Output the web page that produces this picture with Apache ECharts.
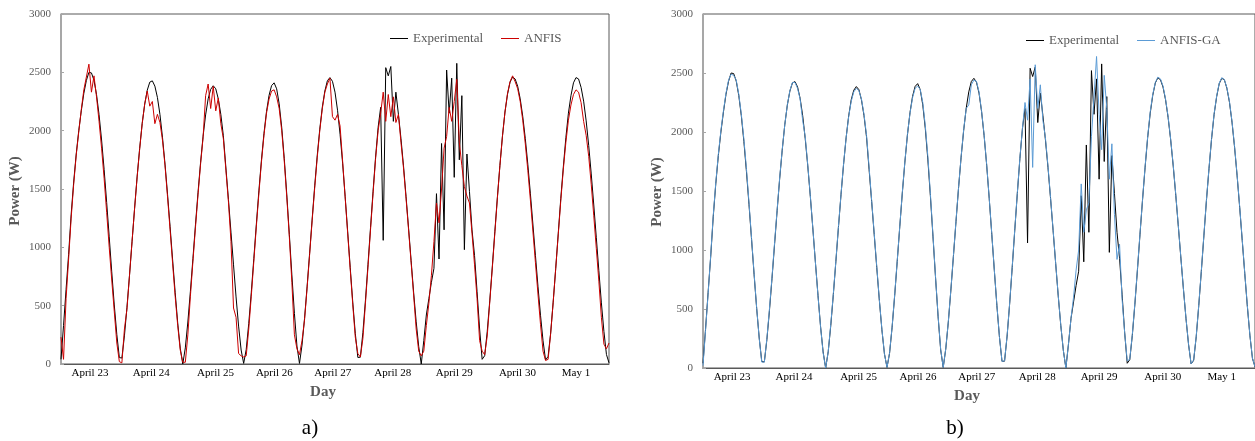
<!DOCTYPE html>
<html>
<head>
<meta charset="utf-8">
<script src="https://cdn.jsdelivr.net/npm/echarts@6/dist/echarts.min.js"></script>
<style>
  html, body { margin: 0; padding: 0; background: #fff; }
  #chart { width: 1255px; height: 441px; }
</style>
</head>
<body>
<div id="chart"></div>
<script>
// samples are hourly (24 per day), one row per day cycle
const dayLabels = ['April 23', 'April 24', 'April 25', 'April 26', 'April 27', 'April 28', 'April 29', 'April 30', 'May 1'];
const dayTicks = [11.4, 35.6, 60.9, 84.1, 107.1, 130.8, 155, 179.9, 203];

const experimental = [
  40, 330, 640, 940, 1280, 1560, 1800, 2000, 2170, 2320, 2430, 2500, 2495, 2432, 2310, 2137, 1920, 1666, 1385, 1090, 790, 506, 253, 55,
  51, 241, 486, 760, 1047, 1332, 1604, 1847, 2061, 2228, 2347, 2416, 2427, 2382, 2285, 2139, 1944, 1713, 1453, 1178, 892, 615, 352, 136, 0,
  138, 360, 622, 904, 1192, 1469, 1724, 1951, 2135, 2273, 2354, 2385, 2359, 2273, 2139, 1956, 1680, 1410, 1130, 850, 575, 325, 120, 5,
  124, 346, 612, 904, 1198, 1484, 1746, 1976, 2164, 2302, 2386, 2410, 2359, 2230, 2028, 1763, 1451, 1111, 764, 434, 154,
  5, 162, 391, 661, 950, 1242, 1527, 1787, 2013, 2202, 2340, 2428, 2455, 2423, 2330, 2175, 1969, 1721, 1436, 1134, 827, 530, 263, 56,
  58, 271, 546, 853, 1169, 1480, 1774, 2029, 2200, 1060, 2540, 2470, 2550, 2080, 2330, 2140, 1933, 1698, 1437, 1164, 886, 612, 362, 149, 0,
  200, 420, 560, 700, 820, 1460, 900, 1890, 1150, 2520, 2150, 2450, 1600, 2577, 1750, 2300, 980, 1800, 1480, 1150, 930, 620, 300, 40,
  71, 278, 541, 831, 1134, 1427, 1702, 1953, 2160, 2312, 2416, 2460, 2443, 2381, 2273, 2123, 1934, 1712, 1464, 1200, 932, 667, 418, 199, 34,
  65, 265, 530, 820, 1120, 1420, 1690, 1940, 2150, 2300, 2410, 2455, 2443, 2371, 2253, 2084, 1872, 1629, 1363, 1082, 800, 524, 278, 81, 10
];

const anfis = [
  230, 40, 560, 900, 1250, 1540, 1790, 1990, 2180, 2350, 2460, 2570, 2330, 2470, 2290, 2080, 1850, 1590, 1300, 1000, 720, 450, 180, 20,
  10, 300, 470, 760, 1050, 1330, 1600, 1840, 2060, 2230, 2340, 2210, 2250, 2060, 2140, 2070, 1920, 1700, 1430, 1150, 860, 580, 330, 120, 15,
  15, 250, 580, 880, 1170, 1450, 1710, 1940, 2300, 2400, 2190, 2380, 2170, 2280, 2060, 1930, 1660, 1390, 1050, 480, 400, 90, 70, 60,
  70, 300, 580, 880, 1180, 1460, 1730, 1960, 2150, 2270, 2340, 2350, 2290, 2190, 2000, 1740, 1430, 1090, 700, 250, 130,
  80, 200, 380, 650, 940, 1230, 1510, 1770, 2000, 2190, 2330, 2400, 2450, 2120, 2090, 2140, 2040, 1740, 1430, 1120, 810, 510, 230, 90,
  60, 220, 520, 830, 1150, 1460, 1760, 2000, 2150, 2330, 2080, 2310, 2120, 2290, 2070, 2140, 1900, 1680, 1420, 1150, 870, 590, 300, 110, 70,
  110, 330, 520, 760, 1050, 1380, 1210, 1500, 1850, 1950, 2200, 2080, 2250, 2440, 1900, 1700, 1520, 1440, 1380, 1120, 850, 560, 200, 110,
  80, 240, 530, 820, 1120, 1420, 1700, 1950, 2160, 2320, 2420, 2470, 2420, 2360, 2250, 2090, 1890, 1660, 1410, 1140, 870, 600, 340, 110, 30,
  40, 260, 530, 820, 1110, 1400, 1670, 1900, 2090, 2220, 2310, 2350, 2330, 2240, 2080, 1960, 1780, 1540, 1270, 990, 710, 400, 170, 130, 180
];

const anfisGa = [
  20, 320, 630, 950, 1290, 1570, 1810, 2010, 2180, 2330, 2440, 2490, 2480, 2440, 2320, 2150, 1940, 1690, 1400, 1100, 800, 510, 250, 50,
  50, 250, 500, 770, 1060, 1340, 1610, 1850, 2060, 2230, 2350, 2420, 2420, 2370, 2280, 2100, 1960, 1720, 1460, 1180, 890, 610, 350, 130, 0,
  140, 370, 630, 910, 1200, 1470, 1730, 1950, 2130, 2260, 2340, 2370, 2350, 2280, 2150, 1970, 1700, 1420, 1140, 860, 580, 330, 120, 5,
  130, 350, 620, 910, 1200, 1490, 1750, 1980, 2160, 2290, 2370, 2390, 2360, 2250, 2050, 1790, 1470, 1120, 770, 440, 160,
  5, 165, 395, 665, 955, 1250, 1530, 1790, 2020, 2200, 2230, 2400, 2440, 2430, 2340, 2180, 1975, 1725, 1440, 1140, 830, 535, 265, 56,
  60, 275, 550, 860, 1175, 1485, 1780, 2030, 2250, 2100, 2450, 1700, 2570, 2200, 2400, 2100, 1950, 1710, 1445, 1170, 890, 615, 365, 150, 0,
  200, 420, 600, 830, 1000, 1560, 1150, 1340, 1400, 1960, 2300, 2640, 2150, 1850, 2480, 2200, 1600, 1900, 1300, 920, 1050, 580, 300, 60,
  75, 285, 550, 840, 1140, 1430, 1710, 1960, 2170, 2320, 2420, 2465, 2450, 2390, 2280, 2130, 1940, 1720, 1470, 1205, 935, 670, 420, 200, 35,
  70, 270, 535, 825, 1125, 1425, 1695, 1945, 2155, 2305, 2415, 2460, 2445, 2375, 2260, 2090, 1880, 1635, 1370, 1090, 805, 530, 280, 85, 10
];

const serif = 'Liberation Serif';
const chart = echarts.init(document.getElementById('chart'));

const toPairs = (values) => values.map((v, i) => [i, v]);

const dayLabel = (v) => {
  let best = 0;
  dayTicks.forEach((t, i) => {
    if (Math.abs(t - v) < Math.abs(dayTicks[best] - v)) best = i;
  });
  return dayLabels[best];
};

const dayAxis = (gridIndex) => ({
  type: 'value',
  gridIndex,
  min: 0,
  max: experimental.length - 1,
  splitLine: { show: false },
  axisTick: { show: false },
  axisLine: { lineStyle: { color: '#595959', width: 1 } },
  axisLabel: {
    customValues: dayTicks,
    formatter: dayLabel,
    color: '#000',
    fontFamily: serif,
    fontSize: 11,
    margin: 4,
  },
});

const powerAxis = (gridIndex) => ({
  type: 'value',
  gridIndex,
  min: 0,
  max: 3000,
  interval: 500,
  splitLine: { show: false },
  axisLine: { show: true, lineStyle: { color: '#a6a6a6', width: 1.5 } },
  axisTick: { show: true, inside: true, length: 3, lineStyle: { color: '#a6a6a6' } },
  axisLabel: {
    color: '#595959',
    fontFamily: serif,
    fontSize: 11,
    margin: 10,
    formatter: (v) => String(v),
  },
});

const lineSeries = (name, values, color, axisIndex) => ({
  name,
  type: 'line',
  xAxisIndex: axisIndex,
  yAxisIndex: axisIndex,
  data: toPairs(values),
  symbol: 'none',
  showSymbol: false,
  lineStyle: { color, width: 1 },
  itemStyle: { color },
  emphasis: { disabled: true },
});

const legendStyle = {
  icon: 'rect',
  itemWidth: 18,
  itemHeight: 1,
  itemGap: 18,
  padding: 0,
  selectedMode: false,
  textStyle: { fontFamily: serif, fontSize: 13, color: '#595959' },
};

const option = {
  animation: false,
  backgroundColor: '#fff',
  grid: [
    { left: 61, top: 14, width: 548, height: 350, show: true, borderColor: '#595959', borderWidth: 1 },
    { left: 703, top: 14, width: 553, height: 354, show: true, borderColor: '#595959', borderWidth: 1 },
  ],
  xAxis: [dayAxis(0), dayAxis(1)],
  yAxis: [powerAxis(0), powerAxis(1)],
  legend: [
    { ...legendStyle, data: ['Experimental', 'ANFIS'], left: 390, top: 32 },
    { ...legendStyle, data: ['Experimental', 'ANFIS-GA'], left: 1026, top: 34 },
  ],
  series: [
    lineSeries('Experimental', experimental, '#000000', 0),
    lineSeries('ANFIS', anfis, '#cc0000', 0),
    lineSeries('Experimental', experimental, '#000000', 1),
    lineSeries('ANFIS-GA', anfisGa, '#5b9bd5', 1),
  ],
  graphic: [
    {
      type: 'text', x: 15, y: 191, rotation: Math.PI / 2,
      style: { text: 'Power (W)', font: 'bold 15px "Liberation Serif"', fill: '#595959', align: 'center', verticalAlign: 'middle' },
    },
    {
      type: 'text', x: 657, y: 192, rotation: Math.PI / 2,
      style: { text: 'Power (W)', font: 'bold 15px "Liberation Serif"', fill: '#595959', align: 'center', verticalAlign: 'middle' },
    },
    {
      type: 'text', x: 323, y: 392,
      style: { text: 'Day', font: 'bold 15px "Liberation Serif"', fill: '#595959', align: 'center', verticalAlign: 'middle' },
    },
    {
      type: 'text', x: 967, y: 396,
      style: { text: 'Day', font: 'bold 15px "Liberation Serif"', fill: '#595959', align: 'center', verticalAlign: 'middle' },
    },
    {
      type: 'text', x: 310, y: 428,
      style: { text: 'a)', font: '21px "Liberation Serif"', fill: '#000', align: 'center', verticalAlign: 'middle' },
    },
    {
      type: 'text', x: 955, y: 428,
      style: { text: 'b)', font: '21px "Liberation Serif"', fill: '#000', align: 'center', verticalAlign: 'middle' },
    },
  ],
};

chart.setOption(option);
</script>
</body>
</html>
